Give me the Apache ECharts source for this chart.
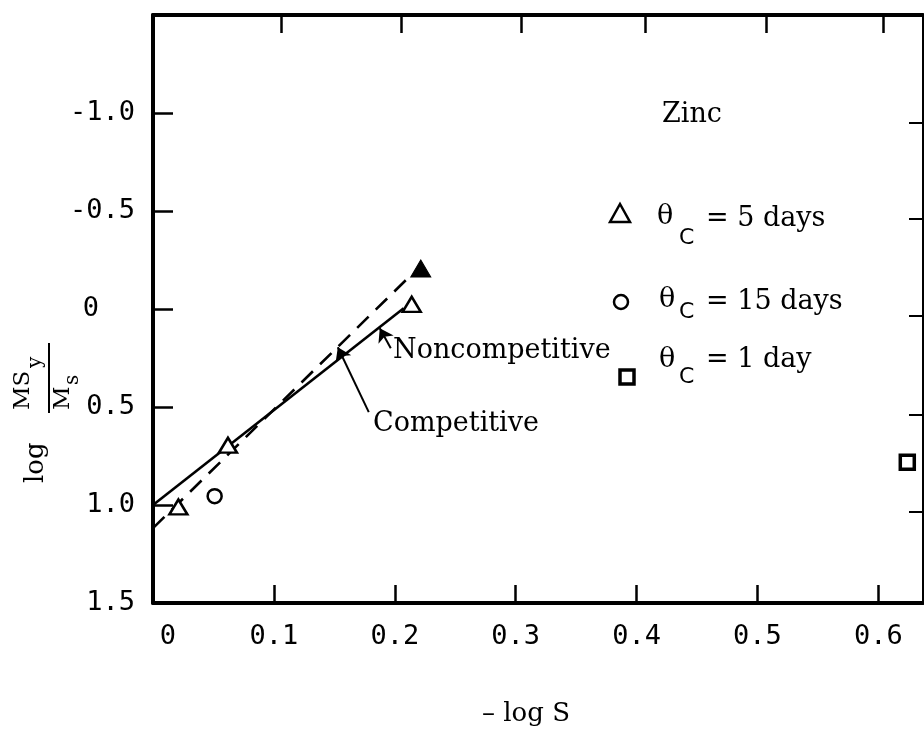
<!DOCTYPE html>
<html>
<head>
<meta charset="utf-8">
<script src="https://cdn.jsdelivr.net/npm/echarts@6/dist/echarts.min.js"></script>
<style>
  html, body { margin: 0; padding: 0; background: #fff; }
  #chart { width: 924px; height: 731px; }
</style>
</head>
<body>
<div id="chart"></div>
<script>
// Zinc: log(MSy/Ms) against -log S for three retention times
const days5X = [0.021, 0.062, 0.214];
const days5Y = [1.01, 0.695, -0.024];
const days5SolidX = [0.2215];
const days5SolidY = [-0.207];
const days15X = [0.051];
const days15Y = [0.955];
const day1X = [0.624];
const day1Y = [0.782];

// Fitted lines
const competitiveX = [0, 0.2074];
const competitiveY = [1.0, -0.004];
const noncompetitiveX = [0, 0.2116];
const noncompetitiveY = [1.118, -0.162];

// Pointer arrows (tail, head)
const competitiveArrowX = [0.1785, 0.1529];
const competitiveArrowY = [0.526, 0.195];
const noncompetitiveArrowX = [0.1967, 0.1876];
const noncompetitiveArrowY = [0.2, 0.098];

// Axis ticks and labels
const xTickValues = [0.1, 0.2, 0.3, 0.4, 0.5, 0.6];
const xLabelValues = [0, 0.1, 0.2, 0.3, 0.4, 0.5, 0.6];
const xTickLabels = ['0', '0.1', '0.2', '0.3', '0.4', '0.5', '0.6'];
const topTickValues = [0.106, 0.205, 0.305, 0.407, 0.507, 0.604];
const yTickValues = [-1, -0.5, 0, 0.5, 1];
const yLabelValues = [-1, -0.5, 0, 0.5, 1, 1.5];
const yTickLabels = ['-1.0', '-0.5', '0', '0.5', '1.0', '1.5'];
const rightTickValues = [-0.948, -0.463, 0.032, 0.542, 1.036];

const legendLabels = ['= 5 days', '= 15 days', '= 1 day'];

const MONO = '"DejaVu Sans Mono", monospace';
const SERIF = '"DejaVu Serif", serif';
const SANS = '"DejaVu Sans", sans-serif';
const INK = '#000';

function pairs(xs, ys) { return xs.map((x, i) => [x, ys[i]]); }
function labelFor(values, labels, v) {
  const i = values.findIndex(u => Math.abs(u - v) < 1e-9);
  return i < 0 ? '' : labels[i];
}

const chart = echarts.init(document.getElementById('chart'), null, { renderer: 'canvas' });

const option = {
  animation: false,
  backgroundColor: '#fff',
  grid: { left: 153, top: 15, right: 1, bottom: 128, containLabel: false },
  xAxis: [
    {
      type: 'value', position: 'bottom', min: 0, max: 0.637,
      axisLine: { show: true, onZero: false, lineStyle: { color: INK, width: 4 } },
      axisTick: { show: true, inside: true, length: 18, customValues: xTickValues,
        lineStyle: { color: INK, width: 2.5 } },
      axisLabel: {
        show: true, customValues: xLabelValues, margin: 20,
        color: INK, fontFamily: MONO, fontSize: 27,
        formatter: v => {
          const t = labelFor(xLabelValues, xTickLabels, v);
          return v === 0 ? '{z|' + t + '}' : t;
        },
        rich: { z: { fontFamily: MONO, fontSize: 27, color: INK, padding: [0, 0, 0, 30] } }
      },
      splitLine: { show: false }
    },
    {
      type: 'value', position: 'top', min: 0, max: 0.637,
      axisLine: { show: true, onZero: false, lineStyle: { color: INK, width: 4 } },
      axisTick: { show: true, inside: true, length: 18, customValues: topTickValues,
        lineStyle: { color: INK, width: 2.5 } },
      axisLabel: { show: false },
      splitLine: { show: false }
    }
  ],
  yAxis: [
    {
      type: 'value', position: 'left', min: -1.5, max: 1.5, inverse: true,
      axisLine: { show: true, onZero: false, lineStyle: { color: INK, width: 4 } },
      axisTick: { show: true, inside: true, length: 20, customValues: yTickValues,
        lineStyle: { color: INK, width: 2.5 } },
      axisLabel: {
        show: true, customValues: yLabelValues, margin: 18,
        color: INK, fontFamily: MONO, fontSize: 27,
        formatter: v => {
          const t = labelFor(yLabelValues, yTickLabels, v);
          return v === 0 ? '{z|' + t + '}' : t;
        },
        rich: { z: { fontFamily: MONO, fontSize: 27, color: INK, padding: [0, 36, 0, 0] } }
      },
      splitLine: { show: false }
    },
    {
      type: 'value', position: 'right', min: -1.5, max: 1.5, inverse: true,
      axisLine: { show: true, onZero: false, lineStyle: { color: INK, width: 2 } },
      axisTick: { show: true, inside: true, length: 14, customValues: rightTickValues,
        lineStyle: { color: INK, width: 2 } },
      axisLabel: { show: false },
      splitLine: { show: false }
    }
  ],
  series: [
    {
      name: 'Competitive', type: 'line', xAxisIndex: 0, yAxisIndex: 0,
      data: pairs(competitiveX, competitiveY), symbol: 'none', z: 2,
      lineStyle: { color: INK, width: 2.6, type: 'solid' },
      markLine: {
        silent: true, symbol: ['none', 'arrow'], symbolSize: 13, precision: 4,
        label: { show: false },
        lineStyle: { color: INK, width: 2, type: 'solid' },
        data: [
          [{ coord: [competitiveArrowX[0], competitiveArrowY[0]] },
           { coord: [competitiveArrowX[1], competitiveArrowY[1]] }],
          [{ coord: [noncompetitiveArrowX[0], noncompetitiveArrowY[0]] },
           { coord: [noncompetitiveArrowX[1], noncompetitiveArrowY[1]] }]
        ]
      }
    },
    {
      name: 'Noncompetitive', type: 'line', xAxisIndex: 0, yAxisIndex: 0,
      data: pairs(noncompetitiveX, noncompetitiveY), symbol: 'none', z: 2,
      lineStyle: { color: INK, width: 2.6, type: [16, 10] }
    },
    {
      name: '5 days', type: 'scatter', xAxisIndex: 0, yAxisIndex: 0, z: 3,
      data: pairs(days5X, days5Y), symbol: 'triangle', symbolSize: [18, 15],
      itemStyle: { color: '#fff', borderColor: INK, borderWidth: 2.5, opacity: 1 }
    },
    {
      name: '5 days (solid)', type: 'scatter', xAxisIndex: 0, yAxisIndex: 0, z: 3,
      data: pairs(days5SolidX, days5SolidY), symbol: 'triangle', symbolSize: [20, 17],
      itemStyle: { color: INK, borderColor: INK, borderWidth: 1, opacity: 1 }
    },
    {
      name: '15 days', type: 'scatter', xAxisIndex: 0, yAxisIndex: 0, z: 3,
      data: pairs(days15X, days15Y), symbol: 'circle', symbolSize: 14,
      itemStyle: { color: '#fff', borderColor: INK, borderWidth: 2.5, opacity: 1 }
    },
    {
      name: '1 day', type: 'scatter', xAxisIndex: 0, yAxisIndex: 0, z: 3,
      data: pairs(day1X, day1Y), symbol: 'rect', symbolSize: 14,
      itemStyle: { color: '#fff', borderColor: INK, borderWidth: 3.5, opacity: 1 }
    }
  ],
  graphic: [
    // plot title
    { type: 'text', left: 662, top: 101, style: { text: 'Zinc', font: '27px ' + SERIF, fill: INK } },
    // line annotations
    { type: 'text', x: 373, y: 424, style: { text: 'Competitive', font: '27px ' + SERIF, fill: INK, verticalAlign: 'middle' } },
    { type: 'text', x: 393, y: 351, style: { text: 'Noncompetitive', font: '27px ' + SERIF, fill: INK, verticalAlign: 'middle' } },
    // key: 5 days
    { type: 'polygon', shape: { points: [[610, 222], [630, 222], [620, 204]] }, style: { fill: '#fff', stroke: INK, lineWidth: 2.5 } },
    { type: 'text', x: 657, y: 217, style: { text: 'θ', font: '27px ' + SERIF, fill: INK, verticalAlign: 'middle' } },
    { type: 'text', x: 679, y: 238, style: { text: 'C', font: '22px ' + SANS, fill: INK, verticalAlign: 'middle' } },
    { type: 'text', x: 706, y: 219, style: { text: legendLabels[0], font: '27px ' + SERIF, fill: INK, verticalAlign: 'middle' } },
    // key: 15 days
    { type: 'circle', shape: { cx: 621, cy: 302, r: 7 }, style: { fill: '#fff', stroke: INK, lineWidth: 2.5 } },
    { type: 'text', x: 659, y: 300, style: { text: 'θ', font: '27px ' + SERIF, fill: INK, verticalAlign: 'middle' } },
    { type: 'text', x: 679, y: 312, style: { text: 'C', font: '22px ' + SANS, fill: INK, verticalAlign: 'middle' } },
    { type: 'text', x: 706, y: 302, style: { text: legendLabels[1], font: '27px ' + SERIF, fill: INK, verticalAlign: 'middle' } },
    // key: 1 day
    { type: 'rect', shape: { x: 620, y: 370, width: 14, height: 14 }, style: { fill: '#fff', stroke: INK, lineWidth: 3.5 } },
    { type: 'text', x: 659, y: 360, style: { text: 'θ', font: '27px ' + SERIF, fill: INK, verticalAlign: 'middle' } },
    { type: 'text', x: 679, y: 377, style: { text: 'C', font: '22px ' + SANS, fill: INK, verticalAlign: 'middle' } },
    { type: 'text', x: 706, y: 360, style: { text: legendLabels[2], font: '27px ' + SERIF, fill: INK, verticalAlign: 'middle' } },
    // x-axis title
    { type: 'text', x: 482, y: 714, style: { text: '– log S', font: '26px ' + SERIF, fill: INK, verticalAlign: 'middle' } },
    // y-axis title, rotated to read upward
    {
      type: 'group', x: 38, y: 483, rotation: Math.PI / 2,
      children: [
        { type: 'text', x: 0, y: -2, style: { text: 'log', font: '26px ' + SERIF, fill: INK, verticalAlign: 'middle' } },
        { type: 'text', x: 73, y: -15, style: { text: 'MS', font: '23px ' + SERIF, fill: INK, verticalAlign: 'middle' } },
        { type: 'text', x: 115, y: -2, style: { text: 'y', font: '20px ' + SERIF, fill: INK, verticalAlign: 'middle' } },
        { type: 'line', shape: { x1: 70, y1: 11, x2: 140, y2: 11 }, style: { stroke: INK, lineWidth: 2 } },
        { type: 'text', x: 73, y: 25, style: { text: 'M', font: '23px ' + SERIF, fill: INK, verticalAlign: 'middle' } },
        { type: 'text', x: 98, y: 35, style: { text: 's', font: '20px ' + SERIF, fill: INK, verticalAlign: 'middle' } }
      ]
    }
  ]
};

chart.setOption(option);
</script>
</body>
</html>
